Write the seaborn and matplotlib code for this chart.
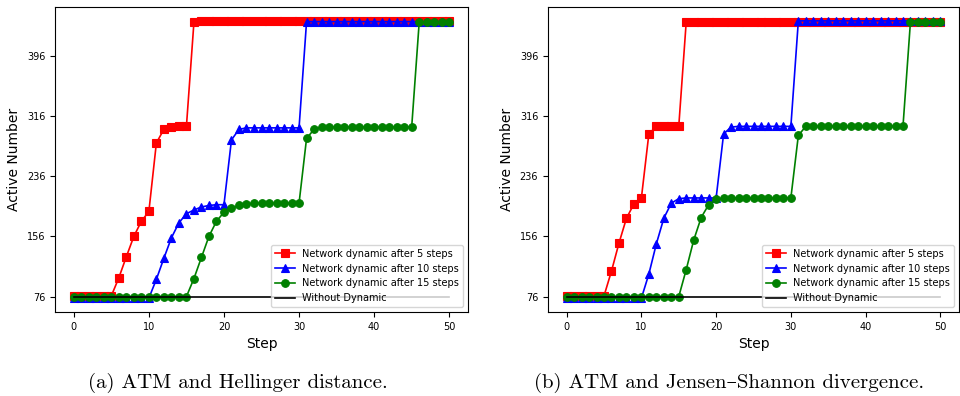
import matplotlib
matplotlib.use("Agg")
import matplotlib.pyplot as plt
import seaborn as sns
import numpy as np

steps = list(range(51))

# Panel (a): ATM and Hellinger distance
a_red = [77, 77, 77, 77, 77, 77, 101, 129, 156, 176, 189, 280, 298, 301, 302, 302,
         440] + [442] * 34
a_blue = [74] * 11 + [99, 127, 154, 174, 186, 191, 195, 197, 198, 198, 284, 298,
                      300, 300, 300, 300, 300, 300, 300, 300, 441] + [441] * 19
a_green = [76] * 16 + [100, 128, 156, 176, 188, 193, 197, 199, 200, 200, 200, 200,
                       200, 200, 200, 286, 298, 301, 301, 301, 301, 301, 301, 301,
                       301, 301, 301, 301, 301, 301, 440, 441, 441, 441, 441]

# Panel (b): ATM and Jensen-Shannon divergence
b_red = [77, 77, 77, 77, 77, 77, 110, 147, 180, 199, 207, 292, 302, 302, 302, 302,
         441] + [441] * 34
b_blue = [74] * 11 + [106, 146, 180, 200, 206, 207, 207, 207, 207, 207, 292, 301,
                      302, 302, 302, 302, 302, 302, 302, 302, 442] + [442] * 19
b_green = [76] * 16 + [112, 151, 181, 198, 205, 207, 207, 207, 207, 207, 207, 207,
                       207, 207, 207, 290, 302, 302, 302, 302, 302, 302, 302, 302,
                       302, 302, 302, 302, 302, 302, 441, 441, 441, 441, 441]

baseline = [76] * 51

labels = ["Network dynamic after 5 steps", "Network dynamic after 10 steps",
          "Network dynamic after 15 steps", "Without Dynamic"]
yticks = [76, 156, 236, 316, 396]
xticks = [0, 10, 20, 30, 40, 50]
captions = ["(a) ATM and Hellinger distance.",
            "(b) ATM and Jensen\u2013Shannon divergence."]

fig = plt.figure(figsize=(9.6, 3.96), dpi=100)
ax_a = fig.add_axes([0.0573, 0.2121, 0.4302, 0.7702])
ax_b = fig.add_axes([0.5708, 0.2121, 0.4282, 0.7702])

panels = [(ax_a, a_red, a_blue, a_green), (ax_b, b_red, b_blue, b_green)]
styles = [("red", "s"), ("blue", "^"), ("green", "o")]

for ax, r, b, g in panels:
    for vals, (col, mk), lab in zip([r, b, g], styles, labels[:3]):
        sns.lineplot(x=steps, y=vals, color=col, marker=mk, markersize=5.5,
                     markeredgecolor=col, markeredgewidth=0.8, linewidth=1.2,
                     label=lab, ax=ax)
    sns.lineplot(x=steps, y=baseline, color="black", linewidth=1.2,
                 label=labels[3], ax=ax)
    ax.set_yticks(yticks)
    ax.set_xticks(xticks)
    ax.tick_params(labelsize=7)
    ax.set_xlabel("Step", fontsize=10)
    ax.set_ylabel("Active Number", fontsize=10)
    ax.legend(loc="lower right", fontsize=7, framealpha=0.8)

fig.text(0.248, 0.008, captions[0], ha="center", va="bottom", fontsize=15,
         family=["cmr10", "DejaVu Serif"])
fig.text(0.759, 0.008, captions[1], ha="center", va="bottom", fontsize=15,
         family=["cmr10", "DejaVu Serif"])

fig.savefig("out.png", dpi=100)
